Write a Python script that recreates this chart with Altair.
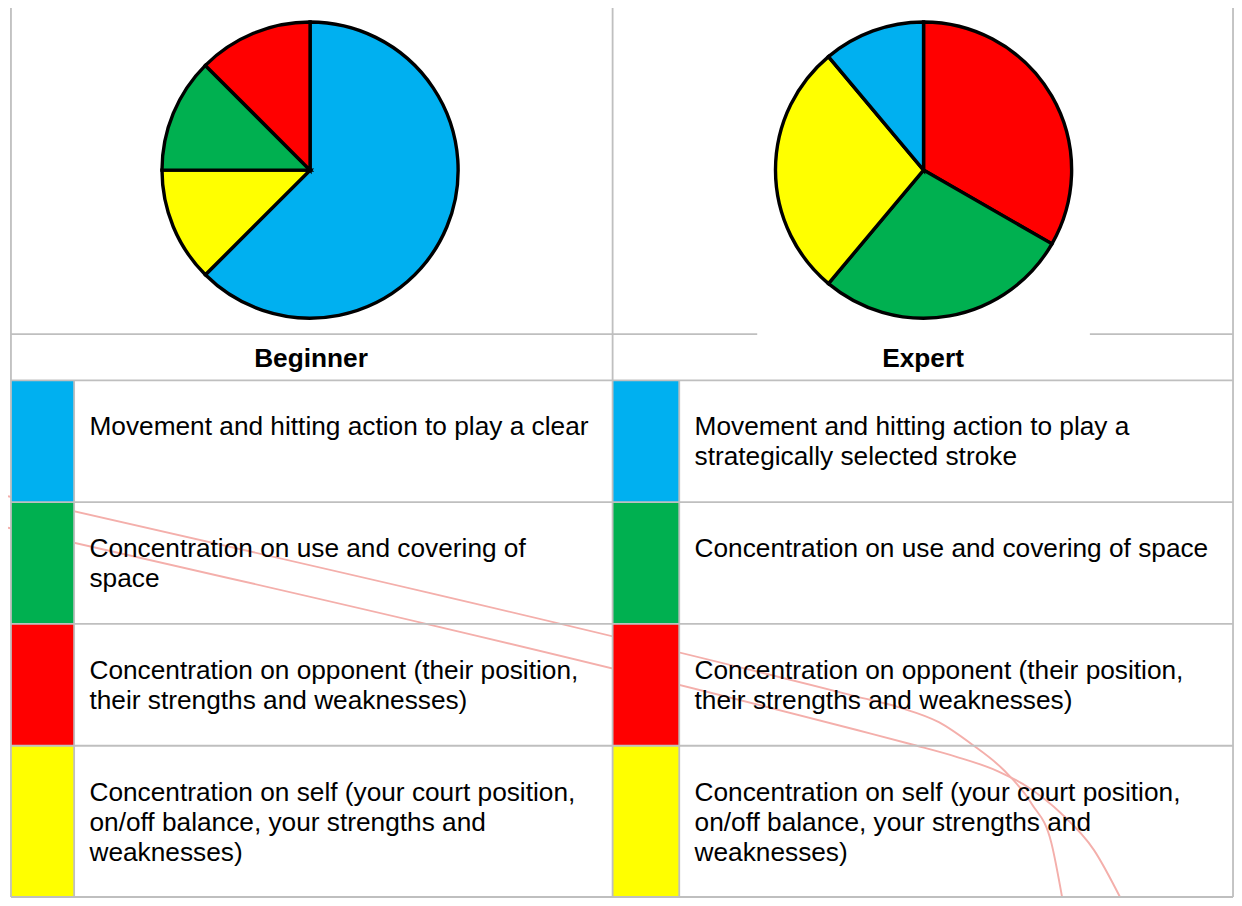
import altair as alt
import pandas as pd

# ---------------- data ----------------
categories = ["Movement", "Space", "Opponent", "Self"]
category_colors = ["#00B0F0", "#00B050", "#FF0000", "#FFFF00"]

panel_titles = ["Beginner", "Expert"]

# slices listed clockwise from 12 o'clock, share in percent
beginner_slices = ["Movement", "Self", "Space", "Opponent"]
beginner_share = [62.5, 12.5, 12.5, 12.5]
expert_slices = ["Opponent", "Space", "Self", "Movement"]
expert_share = [33.3, 27.8, 27.8, 11.1]

# legend rows (top to bottom), one per category
row_categories = ["Movement", "Space", "Opponent", "Self"]
beginner_labels = [
    "Movement and hitting action to play a clear",
    "Concentration on use and covering of\nspace",
    "Concentration on opponent (their position,\ntheir strengths and weaknesses)",
    "Concentration on self (your court position,\non/off balance, your strengths and\nweaknesses)",
]
expert_labels = [
    "Movement and hitting action to play a\nstrategically selected stroke",
    "Concentration on use and covering of space",
    "Concentration on opponent (their position,\ntheir strengths and weaknesses)",
    "Concentration on self (your court position,\non/off balance, your strengths and\nweaknesses)",
]

# two faint pink pen strokes crossing the table
stroke_a_x = [0, 860, 903, 943, 977, 1010, 1037, 1057, 1068]
stroke_a_y = [497, 701, 712, 727, 750, 777, 810, 850, 906]
stroke_b_x = [0, 860, 917, 960, 1003, 1033, 1067, 1100, 1127]
stroke_b_y = [529, 735, 750, 762, 777, 793, 820, 857, 906]

# ---------------- layout (reference pixel space) ----------------
REF_W, REF_H = 1242, 906
PLOT_W, PLOT_H = 1226, 890
SX, SY = PLOT_W / REF_W, PLOT_H / REF_H

TABLE_L, COL_MID, TABLE_R = 3, 612.5, 1241
SWATCH_R = [67, 680]
PIE_ROW_B, HEAD_ROW_B = 332, 379
ROW_EDGES = [379, 503, 627, 751, 905]
PIE_CX, PIE_CY, PIE_R = [306, 927.5], 165, 150
HEAD_X, HEAD_BASE = [307, 927], 365
TEXT_X = [82.5, 695.5]
TEXT_OFF = 56
LINE_H = 30.7
FONT = "Liberation Sans"
FS = 26.6 * SX

xs = alt.Scale(domain=[0, REF_W], nice=False, zero=False)
ys = alt.Scale(domain=[0, REF_H], nice=False, zero=False, reverse=True)
cs = alt.Scale(domain=categories, range=category_colors)

# ---------------- tables ----------------
pie_df = pd.DataFrame(
    [dict(pie="Beginner", cat=c, share=v, k=i, cx=PIE_CX[0], cy=PIE_CY)
     for i, (c, v) in enumerate(zip(beginner_slices, beginner_share))]
    + [dict(pie="Expert", cat=c, share=v, k=i, cx=PIE_CX[1], cy=PIE_CY)
       for i, (c, v) in enumerate(zip(expert_slices, expert_share))]
)

swatch_rows, text_rows = [], []
for j, labels in enumerate([beginner_labels, expert_labels]):
    x0 = TABLE_L if j == 0 else COL_MID
    for i, (cat, lab) in enumerate(zip(row_categories, labels)):
        swatch_rows.append(dict(cat=cat, x=x0, x2=SWATCH_R[j],
                                y=ROW_EDGES[i], y2=ROW_EDGES[i + 1]))
        text_rows.append(dict(label=lab, x=TEXT_X[j], y=ROW_EDGES[i] + TEXT_OFF))
swatch_df = pd.DataFrame(swatch_rows)
text_df = pd.DataFrame(text_rows)

head_df = pd.DataFrame(dict(label=panel_titles, x=HEAD_X, y=[HEAD_BASE] * 2))

grid_rows = [
    dict(x=TABLE_L, x2=759, y=PIE_ROW_B, y2=PIE_ROW_B),
    dict(x=1096, x2=TABLE_R, y=PIE_ROW_B, y2=PIE_ROW_B),
]
for yy in ROW_EDGES:
    grid_rows.append(dict(x=TABLE_L, x2=TABLE_R, y=yy, y2=yy))
for xx in [TABLE_L, COL_MID, TABLE_R]:
    grid_rows.append(dict(x=xx, x2=xx, y=0, y2=ROW_EDGES[-1]))
for xx in SWATCH_R:
    grid_rows.append(dict(x=xx, x2=xx, y=HEAD_ROW_B, y2=ROW_EDGES[-1]))
grid_df = pd.DataFrame(grid_rows)

stroke_df = pd.DataFrame(
    [dict(s="a", k=i, x=x, y=y) for i, (x, y) in enumerate(zip(stroke_a_x, stroke_a_y))]
    + [dict(s="b", k=i, x=x, y=y) for i, (x, y) in enumerate(zip(stroke_b_x, stroke_b_y))]
)

# ---------------- layers ----------------
strokes = alt.Chart(stroke_df).mark_line(
    color="#F4AFAB", strokeWidth=1.9, interpolate="monotone"
).encode(
    x=alt.X("x:Q", scale=xs, axis=None),
    y=alt.Y("y:Q", scale=ys, axis=None),
    detail="s:N",
    order="k:Q",
)

swatches = alt.Chart(swatch_df).mark_rect(strokeWidth=0).encode(
    x=alt.X("x:Q", scale=xs, axis=None), x2="x2:Q",
    y=alt.Y("y:Q", scale=ys, axis=None), y2="y2:Q",
    color=alt.Color("cat:N", scale=cs, legend=None),
)

grid = alt.Chart(grid_df).mark_rule(color="#BFBFBF", strokeWidth=1.8).encode(
    x=alt.X("x:Q", scale=xs, axis=None), x2="x2:Q",
    y=alt.Y("y:Q", scale=ys, axis=None), y2="y2:Q",
)

labels = alt.Chart(text_df).mark_text(
    align="left", baseline="alphabetic", font=FONT, fontSize=FS,
    lineBreak="\n", lineHeight=LINE_H * SY, color="black",
).encode(
    x=alt.X("x:Q", scale=xs, axis=None),
    y=alt.Y("y:Q", scale=ys, axis=None),
    text="label:N",
)

heads = alt.Chart(head_df).mark_text(
    align="center", baseline="alphabetic", font=FONT, fontSize=FS,
    fontWeight="bold", color="black",
).encode(
    x=alt.X("x:Q", scale=xs, axis=None),
    y=alt.Y("y:Q", scale=ys, axis=None),
    text="label:N",
)

pies = alt.Chart(pie_df).transform_stack(
    stack="share", as_=["t0", "t1"], groupby=["pie"],
    sort=[alt.SortField("k", order="ascending")],
).mark_arc(radius=PIE_R * SX, stroke="black", strokeWidth=3.4).encode(
    x=alt.X("cx:Q", scale=xs, axis=None),
    y=alt.Y("cy:Q", scale=ys, axis=None),
    theta=alt.Theta("t0:Q", scale=alt.Scale(domain=[0, 100])),
    theta2="t1:Q",
    color=alt.Color("cat:N", scale=cs, legend=None),
)

chart = alt.layer(strokes, swatches, grid, labels, heads, pies).properties(
    width=PLOT_W, height=PLOT_H,
    padding=0, autosize=alt.AutoSizeParams(type="none"),
    background="white",
).configure_view(stroke=None)

chart.save("out.html", embed_options={"renderer": "svg", "actions": False})
